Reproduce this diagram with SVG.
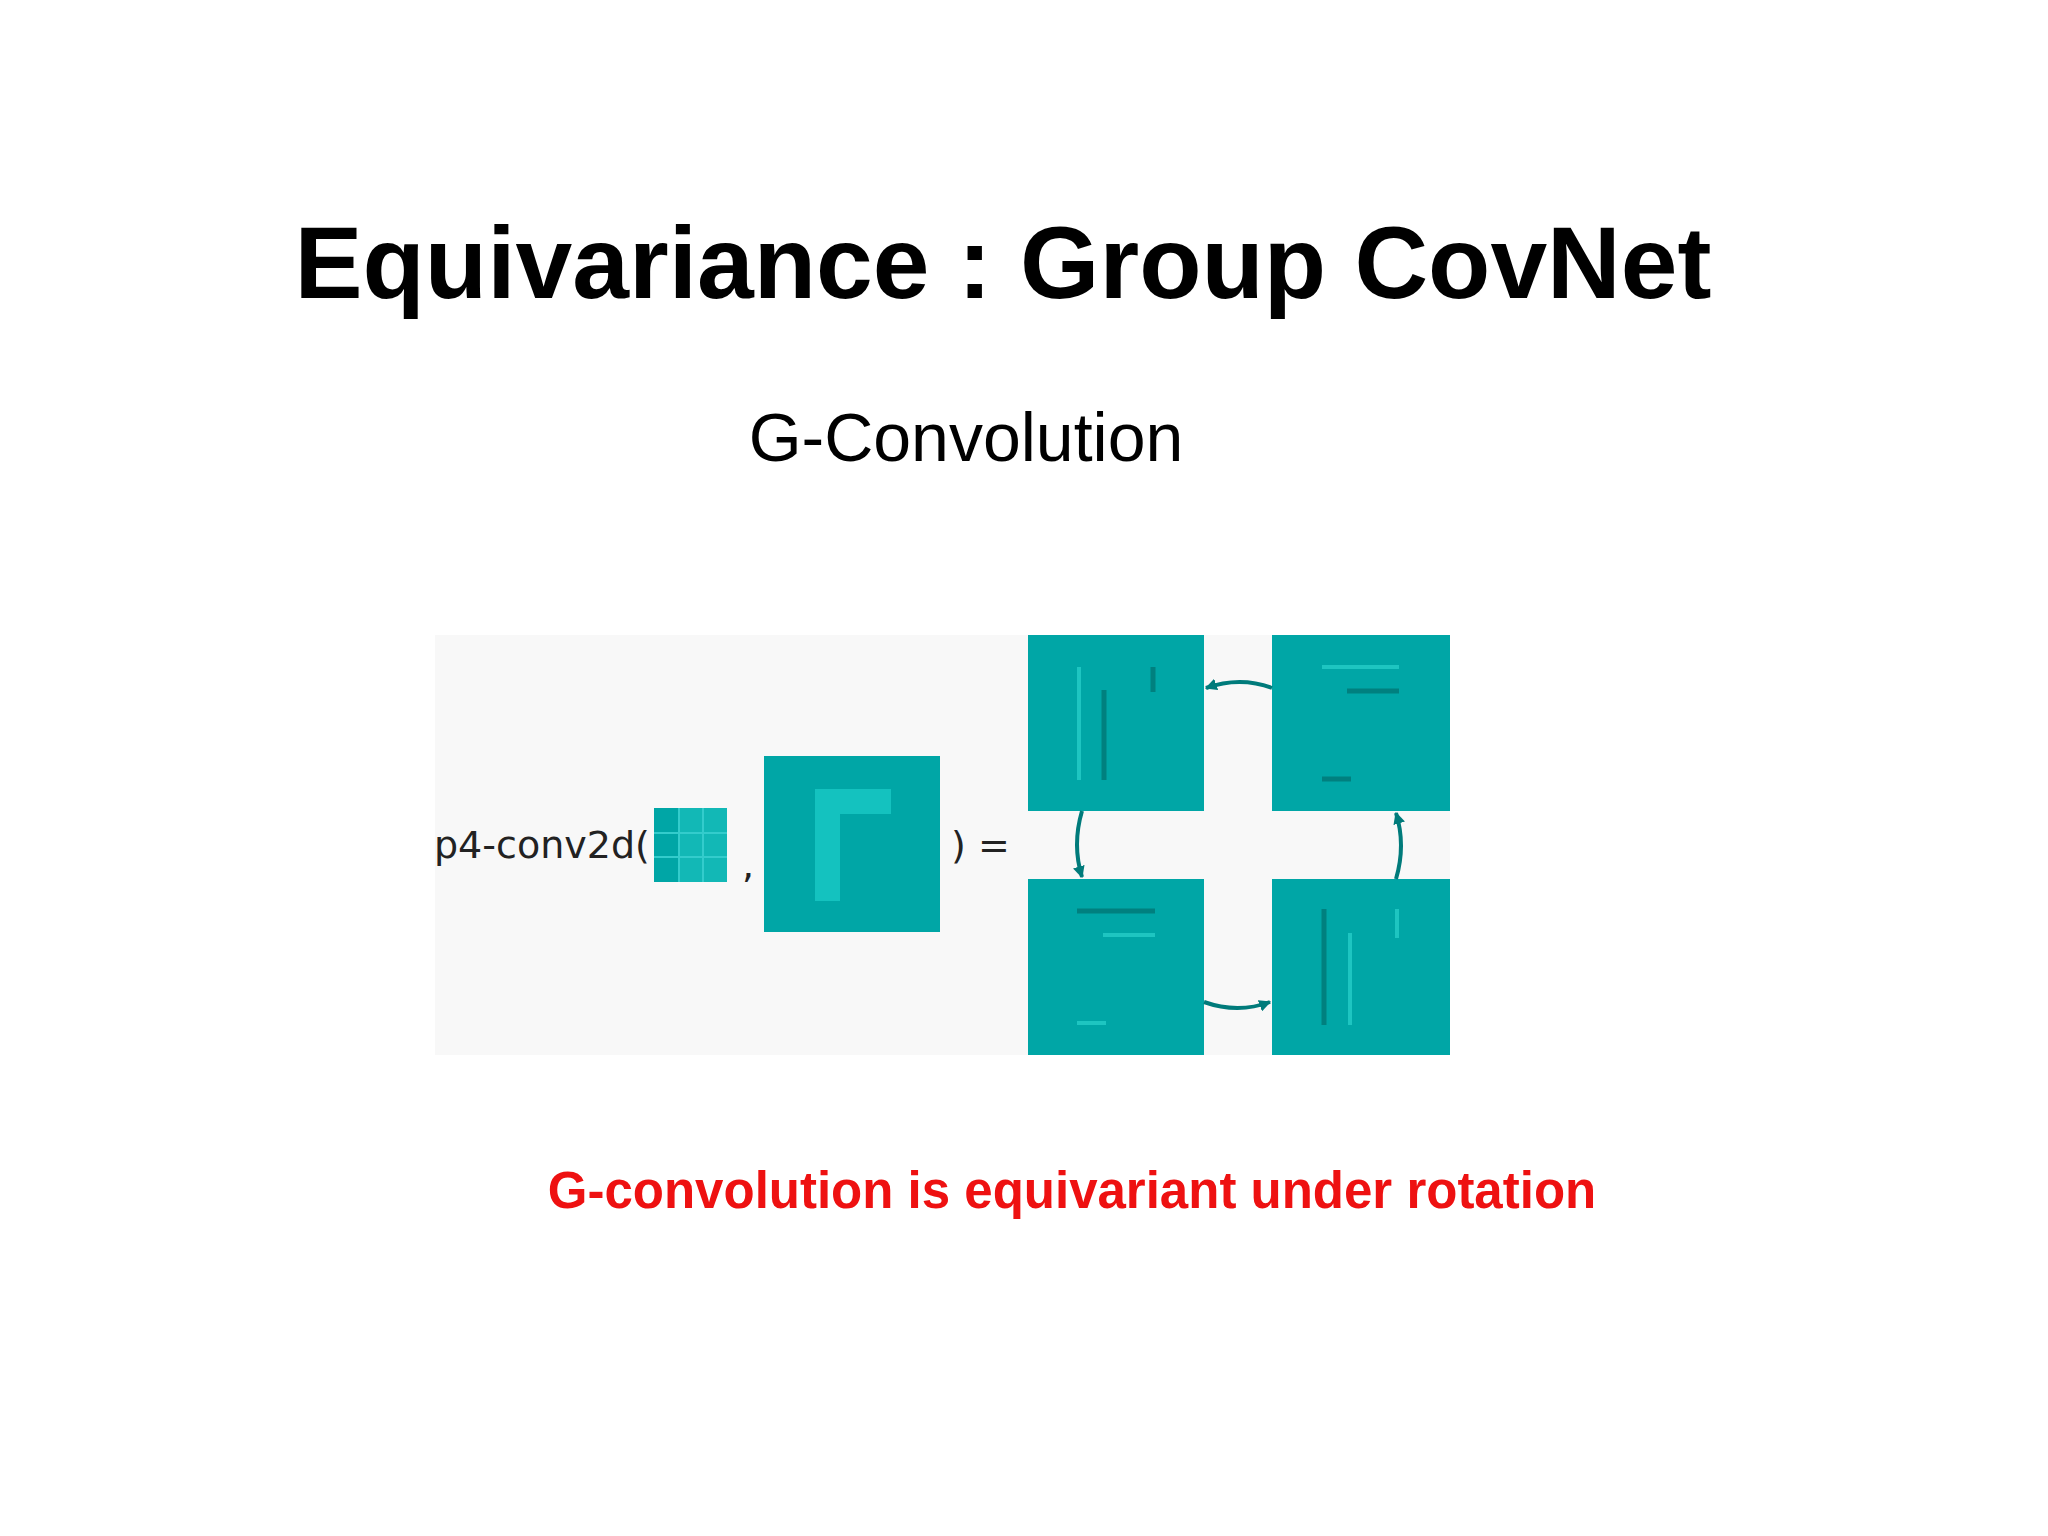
<svg xmlns="http://www.w3.org/2000/svg" width="2048" height="1536" viewBox="0 0 2048 1536">
<style>
.sq{fill:#00a6a6}
.dk{stroke:#00807f;stroke-width:5;fill:none}
.lt{stroke:#1ec5c1;stroke-width:4;fill:none}
.ar{stroke:#007b7b;stroke-width:4;fill:none;marker-end:url(#ah)}
.t{font-family:"Liberation Sans",Arial,sans-serif}
.m{font-family:"DejaVu Sans",sans-serif;font-size:38px;fill:#222}
</style>
<defs><marker id="ah" viewBox="0 0 10 10" refX="9" refY="5" markerWidth="3" markerHeight="3" orient="auto"><path d="M0,0L10,5L0,10z" fill="#007b7b"/></marker></defs>
<rect width="2048" height="1536" fill="#fff"/>
<text class="t" x="1003" y="298" font-size="102" font-weight="bold" text-anchor="middle">Equivariance : Group CovNet</text>
<text class="t" x="966" y="461" font-size="68" text-anchor="middle">G-Convolution</text>
<rect x="435" y="635" width="1015" height="420" fill="#f8f8f8"/>
<g id="expr">
<text class="m" x="434" y="858">p4-conv2d(</text>
<g id="kernel"><rect x="654" y="808" width="73" height="74" fill="#00a6a6"/><rect x="680" y="808" width="47" height="74" fill="#12b8b6"/><path d="M679 808V882M703 808V882M654 833H727M654 857H727" stroke="#33cccc" stroke-width="2"/></g>
<text class="m" x="742" y="878">,</text>
<g id="input"><rect class="sq" x="764" y="756" width="176" height="176"/><rect x="815" y="789" width="25" height="112" fill="#14c2bf"/><rect x="815" y="789" width="76" height="25" fill="#14c2bf"/></g>
<text class="m" x="951" y="858">) =</text>
</g>
<g id="tl"><rect class="sq" x="1028" y="635" width="176" height="176"/><path class="lt" d="M1079 667V780"/><path class="dk" d="M1104 690V780"/><path class="dk" d="M1153 667V692"/></g>
<g id="tr"><rect class="sq" x="1272" y="635" width="178" height="176"/><path class="lt" d="M1322 667H1399"/><path class="dk" d="M1347 691H1399"/><path class="dk" d="M1322 779H1351"/></g>
<g id="bl"><rect class="sq" x="1028" y="879" width="176" height="176"/><path class="dk" d="M1077 911H1155"/><path class="lt" d="M1103 935H1155"/><path class="lt" d="M1077 1023H1106"/></g>
<g id="br"><rect class="sq" x="1272" y="879" width="178" height="176"/><path class="dk" d="M1324 909V1025"/><path class="lt" d="M1350 933V1025"/><path class="lt" d="M1397 909V938"/></g>
<g id="connectors">
<path class="ar" d="M1272 688Q1240 676 1206 688"/>
<path class="ar" d="M1082 811Q1072 845 1082 877"/>
<path class="ar" d="M1204 1002Q1238 1014 1270 1002"/>
<path class="ar" d="M1396 879Q1406 845 1396 813"/>
</g>
<text class="t" x="1072" y="1208" font-size="51" font-weight="bold" fill="#ee1111" text-anchor="middle">G-convolution is equivariant under rotation</text>
</svg>
